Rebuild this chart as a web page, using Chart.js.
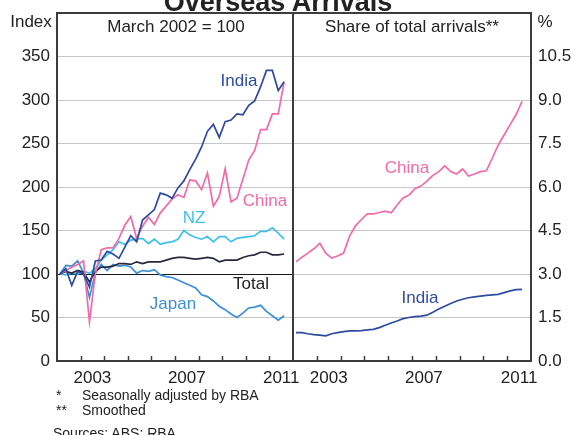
<!DOCTYPE html>
<html>
<head>
<meta charset="utf-8">
<script src="https://cdn.jsdelivr.net/npm/chart.js@4.4.1/dist/chart.umd.min.js"></script>
<style>
body { margin: 0; width: 573px; height: 435px; overflow: hidden; background: #fff; position: relative;
       font-family: Arial, "Liberation Sans", sans-serif; color: #222; }
canvas { position: absolute; top: 0; }
.t { position: absolute; white-space: nowrap; font-size: 17px; line-height: 1; transform: translate(-50%, -50%); }
.note { position: absolute; white-space: nowrap; font-size: 14px; line-height: 14px; }
</style>
</head>
<body>
<canvas id="leftPanel" width="300" height="390" style="left:0"></canvas>
<canvas id="rightPanel" width="287" height="390" style="left:286px"></canvas>

<div class="t" style="left:278px; top:2px; font-size:27px; font-weight:bold;">Overseas Arrivals</div>
<div class="t" style="left:31px; top:21px;">Index</div>
<div class="t" style="left:545px; top:21px;">%</div>
<div class="t" style="left:176px; top:26px;">March 2002 = 100</div>
<div class="t" style="left:412px; top:26px;">Share of total arrivals**</div>

<div class="t" style="left:239px; top:80px; color:#2e4b9f;">India</div>
<div class="t" style="left:265px; top:200px; color:#f06ba8;">China</div>
<div class="t" style="left:194px; top:217px; color:#3ec0ec;">NZ</div>
<div class="t" style="left:251px; top:283px; color:#222;">Total</div>
<div class="t" style="left:173px; top:303px; color:#3c8fd6;">Japan</div>
<div class="t" style="left:407px; top:167px; color:#f06ba8;">China</div>
<div class="t" style="left:420px; top:297px; color:#2e4b9f;">India</div>

<div class="note" style="left:56px; top:388px;">*</div>
<div class="note" style="left:82px; top:388px;">Seasonally adjusted by RBA</div>
<div class="note" style="left:56px; top:403px;">**</div>
<div class="note" style="left:82px; top:403px;">Smoothed</div>
<div class="note" style="left:53px; top:426px;">Sources: ABS; RBA</div>

<script>
// Quarterly observations, March 2002 to September 2011
const quarters = [];
for (let yr = 2002; yr <= 2011; yr++) {
    ['Mar', 'Jun', 'Sep', 'Dec'].forEach(m => {
        if (quarters.length < 39) quarters.push(m + ' ' + yr);
    });
}

// Left panel: index, March 2002 = 100
const indiaIndex = [100, 106, 87, 103, 100, 85, 115, 116, 126, 123,
    118, 131, 144, 137, 162, 168, 174, 193, 191, 187,
    199, 207, 220, 232, 246, 264, 272, 257, 275, 277,
    284, 283, 294, 299, 315, 334, 334, 311, 321];
const chinaIndex = [100, 104, 108, 111, 115, 45, 100, 128, 130, 130,
    141, 156, 166, 141, 155, 165, 157, 170, 178, 186,
    191, 188, 208, 207, 197, 216, 178, 189, 221, 183,
    187, 209, 231, 242, 266, 266, 284, 284, 321];
const nzIndex = [100, 99, 101, 100, 103, 101, 106, 116, 122, 128,
    137, 134, 139, 140, 141, 135, 140, 134, 136, 137,
    140, 150, 145, 142, 140, 143, 137, 143, 143, 137,
    141, 142, 143, 144, 149, 149, 153, 147, 140];
const totalIndex = [100, 103, 101, 104, 102, 91, 103, 108, 108, 109,
    112, 112, 111, 114, 112, 114, 114, 114, 116, 118,
    119, 119, 118, 117, 118, 119, 118, 114, 116, 116,
    116, 119, 121, 122, 125, 125, 122, 122, 123];
const japanIndex = [100, 110, 109, 115, 101, 73, 101, 111, 104, 111,
    109, 110, 108, 101, 104, 103, 105, 99, 97, 96,
    93, 90, 87, 84, 76, 74, 69, 63, 59, 54,
    50, 55, 61, 62, 64, 57, 52, 47, 52];

// Right panel: share of total arrivals, per cent (smoothed)
const chinaShare = [3.42, 3.58, 3.72, 3.87, 4.06, 3.72, 3.55, 3.62, 3.72, 4.30,
    4.66, 4.88, 5.07, 5.07, 5.12, 5.17, 5.11, 5.38, 5.62, 5.72,
    5.94, 6.03, 6.20, 6.40, 6.53, 6.73, 6.53, 6.45, 6.62, 6.38,
    6.45, 6.53, 6.56, 7.00, 7.45, 7.80, 8.15, 8.50, 8.95];
const indiaShare = [0.98, 0.98, 0.94, 0.91, 0.89, 0.87, 0.94, 0.98, 1.01, 1.04,
    1.04, 1.05, 1.07, 1.09, 1.15, 1.23, 1.31, 1.38, 1.46, 1.50,
    1.53, 1.55, 1.58, 1.68, 1.79, 1.89, 1.98, 2.07, 2.13, 2.18,
    2.21, 2.24, 2.26, 2.28, 2.30, 2.36, 2.42, 2.46, 2.47];

const leftTicks = [0, 50, 100, 150, 200, 250, 300, 350, 400];
const rightTicks = [0, 1.5, 3, 4.5, 6, 7.5, 9, 10.5, 12];
const labelYears = [2003, 2007, 2011];
const tickYears = [2003, 2004, 2005, 2006, 2007, 2008, 2009, 2010, 2011];

const monthOffset = { Mar: 0, Jun: 0.25, Sep: 0.5, Dec: 0.75 };

// plot each quarter in the middle of its quarter
function quarterPos(q) {
    const [m, yr] = q.split(' ');
    return Number(yr) + monthOffset[m] + 0.125;
}

function toPoints(values) {
    return values.map((v, i) => ({ x: quarterPos(quarters[i]), y: v }));
}

function line(values, color) {
    return {
        data: toPoints(values),
        borderColor: color,
        backgroundColor: color,
        borderWidth: 1.7,
        pointRadius: 0,
        tension: 0
    };
}

Chart.defaults.font.family = 'Arial, "Liberation Sans", sans-serif';
Chart.defaults.font.size = 17;
Chart.defaults.color = '#222';

// box round the panel plus short year marks standing up from the axis
const panelFrame = {
    id: 'panelFrame',
    afterDatasetsDraw(chart) {
        const { ctx, chartArea: a, scales: { x } } = chart;
        ctx.save();
        ctx.strokeStyle = '#3c3c3c';
        ctx.lineWidth = 1.5;
        tickYears.forEach(yr => {
            const px = Math.round(x.getPixelForValue(yr)) + 0.5;
            ctx.beginPath();
            ctx.moveTo(px, a.bottom);
            ctx.lineTo(px, a.bottom - 5);
            ctx.stroke();
        });
        ctx.lineWidth = 2;
        ctx.strokeRect(a.left, a.top, a.right - a.left, a.bottom - a.top);
        ctx.restore();
    }
};

function xScale() {
    return {
        type: 'linear',
        min: 2002,
        max: 2012,
        afterBuildTicks: s => { s.ticks = labelYears.map(yr => ({ value: yr + 0.5 })); },
        afterFit: s => { s.height = 29; s.paddingLeft = 0; s.paddingRight = 0; },
        ticks: {
            autoSkip: false,
            maxRotation: 0,
            padding: 7,
            callback: v => String(Math.floor(v))
        },
        grid: { display: false, drawTicks: false },
        border: { display: false }
    };
}

function yScale(ticks, position, width, fmt, blackAt) {
    const top = ticks[ticks.length - 1];
    return {
        type: 'linear',
        position: position,
        min: ticks[0],
        max: top,
        afterBuildTicks: s => { s.ticks = ticks.map(v => ({ value: v })); },
        afterFit: s => { s.width = width; s.paddingTop = 0; s.paddingBottom = 0; },
        ticks: {
            padding: 7,
            callback: v => (v === top ? '' : fmt(v))
        },
        grid: {
            drawTicks: false,
            lineWidth: 1,
            color: c => {
                const v = c.tick.value;
                if (v === ticks[0] || v === top) return 'rgba(0,0,0,0)';
                return v === blackAt ? '#1a1a1a' : '#c6c6c6';
            }
        },
        border: { display: false }
    };
}

const baseOptions = {
    responsive: false,
    animation: false,
    plugins: { legend: { display: false }, tooltip: { enabled: false } }
};

new Chart(document.getElementById('leftPanel'), {
    type: 'line',
    data: {
        datasets: [
            line(indiaIndex, '#2e4b9f'),
            line(chinaIndex, '#f06ba8'),
            line(totalIndex, '#28283f'),
            line(nzIndex, '#3ec0ec'),
            line(japanIndex, '#3c8fd6')
        ]
    },
    options: Object.assign({}, baseOptions, {
        layout: { padding: { top: 13, right: 7, left: 0, bottom: 0 } },
        scales: {
            x: xScale(),
            y: yScale(leftTicks, 'left', 57, v => String(v), 100)
        }
    }),
    plugins: [panelFrame]
});

new Chart(document.getElementById('rightPanel'), {
    type: 'line',
    data: {
        datasets: [
            line(indiaShare, '#2e4b9f'),
            line(chinaShare, '#f06ba8')
        ]
    },
    options: Object.assign({}, baseOptions, {
        layout: { padding: { top: 13, right: 0, left: 7, bottom: 0 } },
        scales: {
            x: xScale(),
            y: yScale(rightTicks, 'right', 42, v => v.toFixed(1), null)
        }
    }),
    plugins: [panelFrame]
});
</script>
</body>
</html>
